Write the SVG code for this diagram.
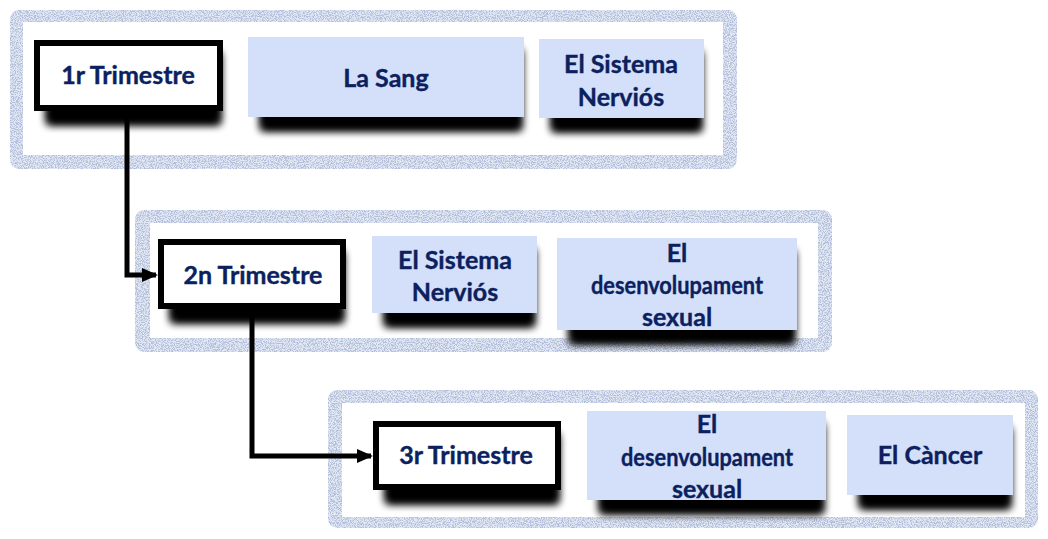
<svg xmlns="http://www.w3.org/2000/svg" width="1048" height="539" viewBox="0 0 1048 539">
<defs>
<style>
.frame{fill:#BCC7DD;filter:url(#tex)}
.inner{fill:#ffffff}
.tri{fill:#ffffff;stroke:#000;stroke-width:6;filter:url(#shadow)}
.topic{fill:#D4E0FA;filter:url(#shadow)}
.t{font-family:Lato,"Liberation Sans",sans-serif;font-weight:bold;font-size:25px;fill:#0C1F5E;text-anchor:middle;stroke:#0C1F5E;stroke-width:0.4}
.conn{fill:none;stroke:#000;stroke-width:5}
</style>
<filter id="tex" x="0" y="0" width="100%" height="100%">
<feTurbulence type="fractalNoise" baseFrequency="0.85" numOctaves="4" seed="7" result="n"/>
<feColorMatrix in="n" type="matrix" values="0 0 0 0 0.45  0 0 0 0 0.52  0 0 0 0 0.70  5 0 0 0 -2.1" result="c"/>
<feFlood flood-color="#E2E8F4" result="bg"/>
<feMerge result="m"><feMergeNode in="bg"/><feMergeNode in="c"/></feMerge>
<feComposite in="m" in2="SourceGraphic" operator="in"/>
</filter>
<filter id="shadow" x="-10%" y="-20%" width="130%" height="190%">
<feMorphology in="SourceAlpha" operator="erode" radius="8 0" result="e"/>
<feOffset in="e" dx="5" dy="13" result="o"/>
<feGaussianBlur in="o" stdDeviation="4" result="b"/>
<feMerge><feMergeNode in="b"/><feMergeNode in="b"/><feMergeNode in="SourceGraphic"/></feMerge>
</filter>
<marker id="arr" markerUnits="userSpaceOnUse" markerWidth="16" markerHeight="16" refX="14" refY="8" orient="auto">
<path d="M0,1 L16,8 L0,15 Z" fill="#000"/>
</marker>
</defs>

<g id="row1">
<rect class="frame" x="10" y="10" width="727" height="159" rx="9"/>
<rect class="inner" x="23" y="22" width="700" height="133"/>
</g>
<g id="row2">
<rect class="frame" x="135" y="210" width="697" height="142" rx="9"/>
<rect class="inner" x="150" y="223" width="668" height="115"/>
</g>
<g id="row3">
<rect class="frame" x="328" y="390" width="710" height="138" rx="9"/>
<rect class="inner" x="342" y="403" width="683" height="114"/>
</g>

<g id="connectors">
<path class="conn" d="M127,111 V275 H156" marker-end="url(#arr)"/>
<path class="conn" d="M252,309 V456 H371" marker-end="url(#arr)"/>
</g>

<g id="node-1r">
<rect class="tri" x="37" y="43" width="183" height="65"/>
<text class="t" x="128" y="84">1r Trimestre</text>
</g>
<g id="node-lasang">
<rect class="topic" x="248" y="37" width="276" height="80"/>
<text class="t" x="386" y="87">La Sang</text>
</g>
<g id="node-sn1">
<rect class="topic" x="539" y="39" width="165" height="79"/>
<text class="t" x="621" y="73">El Sistema</text>
<text class="t" x="621" y="106">Nerviós</text>
</g>

<g id="node-2n">
<rect class="tri" x="161" y="242" width="182" height="64"/>
<text class="t" x="253" y="284">2n Trimestre</text>
</g>
<g id="node-sn2">
<rect class="topic" x="372" y="236" width="165" height="77"/>
<text class="t" x="455" y="269">El Sistema</text>
<text class="t" x="455" y="301">Nerviós</text>
</g>
<g id="node-ds2">
<rect class="topic" x="557" y="238" width="240" height="92"/>
<text class="t" x="677" y="262">El</text>
<text class="t" x="677" y="294" textLength="172" lengthAdjust="spacingAndGlyphs">desenvolupament</text>
<text class="t" x="677" y="326">sexual</text>
</g>

<g id="node-3r">
<rect class="tri" x="376" y="424" width="182" height="63"/>
<text class="t" x="466" y="464">3r Trimestre</text>
</g>
<g id="node-ds3">
<rect class="topic" x="587" y="411" width="239" height="89"/>
<text class="t" x="707" y="433">El</text>
<text class="t" x="707" y="466" textLength="172" lengthAdjust="spacingAndGlyphs">desenvolupament</text>
<text class="t" x="707" y="498">sexual</text>
</g>
<g id="node-cancer">
<rect class="topic" x="847" y="415" width="166" height="80"/>
<text class="t" x="930" y="464">El Càncer</text>
</g>
</svg>
